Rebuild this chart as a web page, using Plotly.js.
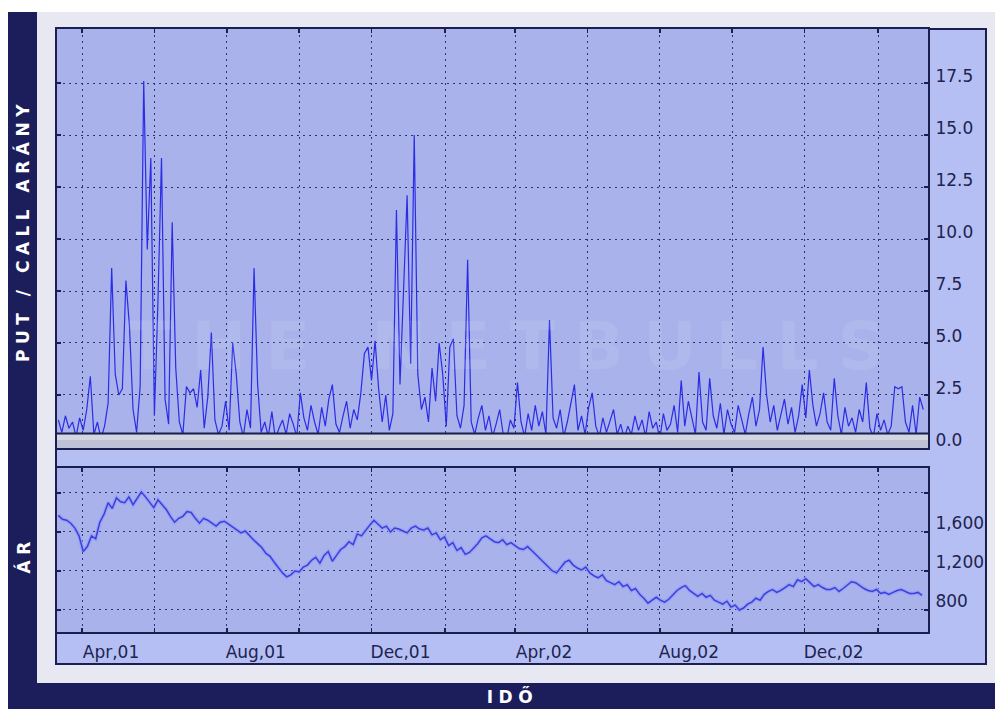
<!DOCTYPE html>
<html>
<head>
<meta charset="utf-8">
<script src="https://cdn.plot.ly/plotly-3.0.1.min.js"></script>
<style>
html,body{margin:0;padding:0;background:#ffffff;}
#chart{width:995px;height:709px;}
g.annotation[data-index="0"] text{letter-spacing:19px;}
g.annotation[data-index="1"] text,
g.annotation[data-index="2"] text,
g.annotation[data-index="3"] text{letter-spacing:5.5px;}
</style>
</head>
<body>
<div id="chart"></div>
<script>
// ---------- DATA ----------
// Put/Call ratio, sampled every 3 days starting 2001-03-12
const putCallStart = '2001-03-12';
const putCallStepDays = 3;
const putCall = [
  1.3, 0.7, 1.5, 0.9, 1.2, 0.5, 1.4, 0.8, 1.8, 3.4,
  0.6, 1.2, 0.4, 1.0, 2.1, 8.6, 3.5, 2.5, 2.8, 8.0,
  5.8, 1.8, 0.7, 2.9, 17.6, 9.5, 13.9, 1.5, 7.0, 13.9,
  2.3, 1.1, 10.8, 3.8, 1.2, 0.6, 2.9, 2.6, 2.8, 1.9,
  3.7, 0.9, 2.4, 5.5, 1.3, 0.6, 1.0, 2.2, 0.8, 5.0,
  3.5, 1.2, 0.5, 1.8, 0.9, 8.6, 3.0, 0.7, 1.2, 0.5,
  1.7, 0.4, 0.9, 1.3, 0.6, 1.6, 1.1, 0.5, 2.6, 1.4,
  0.8, 2.0, 1.2, 0.6, 1.9, 1.0, 2.3, 3.0, 1.1, 0.7,
  1.5, 2.2, 0.9, 1.8, 1.3, 2.6, 4.5, 4.8, 3.2, 5.1,
  2.8, 1.2, 2.5, 0.8, 1.6, 11.4, 3.0, 8.0, 12.1, 4.0,
  15.0, 3.5, 1.8, 2.4, 1.2, 3.8, 2.2, 5.0, 3.5, 1.0,
  4.8, 5.2, 1.5, 0.9, 2.0, 9.0, 1.2, 0.6, 1.4, 2.0,
  0.8, 1.5, 0.5, 1.1, 1.8, 0.6, 0.4, 1.3, 0.9, 3.1,
  1.2, 0.5, 1.6, 0.8, 2.0, 1.0, 1.7, 0.6, 6.1, 1.4,
  0.9, 1.8, 0.5, 1.2, 2.2, 3.0, 0.8, 1.5, 0.6, 1.9,
  2.6, 1.0, 0.5, 1.4, 0.7, 1.2, 1.8, 0.6, 1.1, 0.4,
  1.0, 0.6, 1.5, 0.8, 1.3, 0.5, 1.7, 0.9, 1.2, 0.4,
  1.6, 0.8, 1.1, 2.0, 0.7, 3.2, 1.0, 2.2, 1.4, 0.6,
  3.6, 1.2, 0.8, 3.3, 1.5, 0.9, 2.1, 0.6, 1.8, 1.1,
  0.7, 2.0, 1.3, 0.6, 1.6, 2.4, 1.0, 1.8, 4.8, 2.5,
  1.2, 2.0, 0.8, 1.6, 2.3, 1.1, 1.9, 0.7, 1.5, 3.0,
  1.4, 3.7, 2.0, 1.0, 1.6, 2.6, 1.2, 0.8, 3.3, 1.5,
  0.6, 1.9, 1.0, 1.4, 0.7, 1.8, 1.2, 3.1, 0.9, 0.5,
  1.6, 0.8, 1.3, 0.6, 1.0, 2.9, 2.8, 2.9, 1.2, 0.7,
  2.0, 0.6, 2.4, 1.8
];

// Price (ÁR), twice a week (every 3.5 days) starting 2001-03-12
const priceStart = '2001-03-12';
const priceStepDays = 3.5;
const price = [
  1770, 1730, 1720, 1690, 1640, 1560, 1400, 1450, 1560, 1530,
  1700, 1780, 1900, 1840, 1950, 1910, 1900, 1960, 1880, 1940,
  2010, 1960, 1900, 1850, 1930, 1880, 1830, 1760, 1700, 1740,
  1760, 1810, 1800, 1740, 1690, 1740, 1720, 1690, 1660, 1700,
  1710, 1680, 1650, 1620, 1590, 1610, 1560, 1520, 1480, 1440,
  1380, 1350, 1290, 1230, 1180, 1140, 1160, 1200, 1190, 1240,
  1260, 1310, 1340, 1280, 1360, 1400, 1300, 1360, 1420, 1450,
  1500, 1470, 1580, 1560, 1620, 1670, 1720, 1680, 1640, 1660,
  1600, 1640, 1630, 1610, 1590, 1640, 1660, 1630, 1620, 1640,
  1570, 1590, 1520, 1550, 1460, 1490, 1410, 1440, 1370, 1390,
  1430, 1480, 1540, 1560, 1530, 1500, 1490, 1520, 1470, 1490,
  1460, 1430, 1420, 1450, 1410, 1370, 1320, 1290, 1250, 1200,
  1180, 1240, 1290, 1310, 1260, 1230, 1210, 1240, 1180, 1150,
  1130, 1160, 1100, 1080, 1060, 1090, 1040, 1060, 1000, 1020,
  960, 920, 870, 900, 930, 900, 880, 910, 960, 1000,
  1030, 1050, 1000, 970, 940, 970, 930, 950, 900, 880,
  860, 890, 830, 850, 800, 820, 860, 880, 920, 900,
  960, 990, 1010, 980, 1000, 1030, 1060, 1040, 1110, 1090,
  1120, 1080, 1040, 1060, 1030, 1010, 1010, 1030, 990, 1020,
  1060, 1090, 1080, 1050, 1020, 1000, 990, 1010, 970, 980,
  960, 980, 1000, 1010, 990, 970, 970, 980, 950
];

// Axis ticks
const xTickVals = ['2001-04-01','2001-06-01','2001-08-01','2001-10-01','2001-12-01','2002-02-01',
                   '2002-04-01','2002-06-01','2002-08-01','2002-10-01','2002-12-01','2003-02-01'];
const xTickText = ['Apr,01','','Aug,01','','Dec,01','','Apr,02','','Aug,02','','Dec,02',''];
const pcTickVals = [0, 2.5, 5, 7.5, 10, 12.5, 15, 17.5];
const pcTickText = ['0.0','2.5','5.0','7.5','10.0','12.5','15.0','17.5'];
const priceTickVals = [800, 1200, 1600, 2000];
const priceTickText = ['800','1,200','1,600',''];

// Texts
const leftTitleTop = 'PUT / CALL ARÁNY';
const leftTitleBottom = 'ÁR';
const bottomTitle = 'IDŐ';
const watermark = 'THE NETBULLS';

// ---------- helpers ----------
function pad(n) { return String(n).padStart(2, '0'); }
function makeDates(start, step, n) {
  const out = [];
  const d0 = new Date(start + 'T00:00:00Z');
  for (let i = 0; i < n; i++) {
    const d = new Date(d0.getTime() + i * step * 86400000);
    out.push(d.getUTCFullYear() + '-' + pad(d.getUTCMonth() + 1) + '-' + pad(d.getUTCDate()) +
             ' ' + pad(d.getUTCHours()) + ':' + pad(d.getUTCMinutes()));
  }
  return out;
}
const pcDates = makeDates(putCallStart, putCallStepDays, putCall.length);
const priceDates = makeDates(priceStart, priceStepDays, price.length);

// ---------- layout ----------
const W = 995, H = 709;
const px = v => v / W;
const py = v => 1 - v / H;

const NAVY = '#1c1e5c';
const LINE = '#1b1f4d';
const GRID = '#2d3272';
const PLOTBG = '#a9b2ea';
const OUTER = '#b6bff3';
const PANEL = '#e7e8f1';
const TXT = '#20234f';

const xDomain = [px(57), px(928)];
const xRange = ['2001-03-10 22:00', '2003-03-15'];

const commonX = {
  type: 'date', range: xRange, domain: xDomain,
  tickmode: 'array', tickvals: xTickVals, ticktext: xTickText,
  showgrid: true, gridcolor: GRID, griddash: '2px,4px', gridwidth: 1,
  ticks: 'inside', ticklen: 4, tickcolor: LINE, tickwidth: 1.5,
  showline: true, linecolor: LINE, linewidth: 2, mirror: 'ticks',
  zeroline: false, fixedrange: true
};
const commonY = {
  side: 'right', tickmode: 'array',
  showgrid: true, gridcolor: GRID, griddash: '2px,4px', gridwidth: 1,
  ticks: 'inside', ticklen: 4, tickcolor: LINE, tickwidth: 1.5,
  showline: true, linecolor: LINE, linewidth: 2, mirror: 'ticks',
  zeroline: false, fixedrange: true,
  tickfont: {family: 'DejaVu Sans', size: 17, color: TXT},
  ticklabelstandoff: 2
};

const layout = {
  width: W, height: H,
  margin: {l: 0, r: 0, t: 0, b: 0},
  paper_bgcolor: '#ffffff',
  plot_bgcolor: 'rgba(0,0,0,0)',
  showlegend: false,
  hovermode: false,
  xaxis: Object.assign({}, commonX, {anchor: 'y', showticklabels: false}),
  yaxis: Object.assign({}, commonY, {
    anchor: 'x', domain: [py(448), py(29)], range: [-0.05, 20.1],
    tickvals: pcTickVals, ticktext: pcTickText, ticklabelshift: -7
  }),
  xaxis2: Object.assign({}, commonX, {
    anchor: 'y2', matches: 'x', showticklabels: true,
    tickfont: {family: 'DejaVu Sans', size: 17, color: TXT},
    ticklabelshift: 29, ticklabelstandoff: 4
  }),
  yaxis2: Object.assign({}, commonY, {
    anchor: 'x2', domain: [py(632), py(468)], range: [574, 2256],
    tickvals: priceTickVals, ticktext: priceTickText, ticklabelshift: -9
  }),
  shapes: [
    // navy frame
    {type: 'rect', xref: 'paper', yref: 'paper', x0: px(8), x1: px(37), y0: 0, y1: py(12),
     fillcolor: NAVY, line: {width: 0}, layer: 'below'},
    {type: 'rect', xref: 'paper', yref: 'paper', x0: px(8), x1: 1, y0: 0, y1: py(683),
     fillcolor: NAVY, line: {width: 0}, layer: 'below'},
    // light gray panel
    {type: 'rect', xref: 'paper', yref: 'paper', x0: px(37), x1: 1, y0: py(683), y1: py(12),
     fillcolor: PANEL, line: {width: 0}, layer: 'below'},
    // outer chart box
    {type: 'rect', xref: 'paper', yref: 'paper', x0: px(56), x1: px(986), y0: py(664), y1: py(29),
     fillcolor: OUTER, line: {color: LINE, width: 2}, layer: 'below'},
    // plot backgrounds
    {type: 'rect', xref: 'x domain', yref: 'y domain', x0: 0, x1: 1, y0: 0, y1: 1,
     fillcolor: PLOTBG, line: {width: 0}, layer: 'below'},
    {type: 'rect', xref: 'x2 domain', yref: 'y2 domain', x0: 0, x1: 1, y0: 0, y1: 1,
     fillcolor: PLOTBG, line: {width: 0}, layer: 'below'},
    // gray base band in upper panel
    {type: 'rect', xref: 'x domain', yref: 'y', x0: 0, x1: 1, y0: -0.05, y1: 0.65,
     fillcolor: '#bfc2d6', line: {width: 0}, layer: 'above'},
    {type: 'rect', xref: 'x domain', yref: 'y', x0: 0, x1: 1, y0: 0.33, y1: 0.6,
     fillcolor: '#d3d5e1', line: {width: 0}, layer: 'above'},
    {type: 'line', xref: 'x domain', yref: 'y', x0: 0, x1: 1, y0: 0.65, y1: 0.65,
     line: {color: LINE, width: 2}, layer: 'above'}
  ],
  annotations: [
    {text: watermark, xref: 'paper', yref: 'paper', x: px(515), y: py(346),
     xanchor: 'center', yanchor: 'middle',
     showarrow: false, font: {family: 'DejaVu Sans', size: 66, weight: 'bold', color: 'rgba(255,255,255,0.09)'}},
    {text: leftTitleTop, xref: 'paper', yref: 'paper', x: px(23), y: py(230), textangle: -90,
     xanchor: 'center', yanchor: 'middle',
     showarrow: false, font: {family: 'DejaVu Sans', size: 17, weight: 'bold', color: '#ffffff'}},
    {text: leftTitleBottom, xref: 'paper', yref: 'paper', x: px(23), y: py(555), textangle: -90,
     xanchor: 'center', yanchor: 'middle',
     showarrow: false, font: {family: 'DejaVu Sans', size: 17, weight: 'bold', color: '#ffffff'}},
    {text: bottomTitle, xref: 'paper', yref: 'paper', x: px(512), y: py(696),
     xanchor: 'center', yanchor: 'middle',
     showarrow: false, font: {family: 'DejaVu Sans', size: 17, weight: 'bold', color: '#ffffff'}}
  ]
};

const traces = [
  {type: 'scatter', mode: 'lines', x: pcDates, y: putCall, xaxis: 'x', yaxis: 'y',
   line: {color: '#2a2ce6', width: 1.2}},
  {type: 'scatter', mode: 'lines', x: priceDates, y: price, xaxis: 'x2', yaxis: 'y2',
   line: {color: 'rgba(150,160,250,0.9)', width: 4}},
  {type: 'scatter', mode: 'lines', x: priceDates, y: price, xaxis: 'x2', yaxis: 'y2',
   line: {color: '#3d3fd8', width: 1.5}}
];

Plotly.newPlot('chart', traces, layout, {staticPlot: true, displayModeBar: false});
</script>
</body>
</html>
